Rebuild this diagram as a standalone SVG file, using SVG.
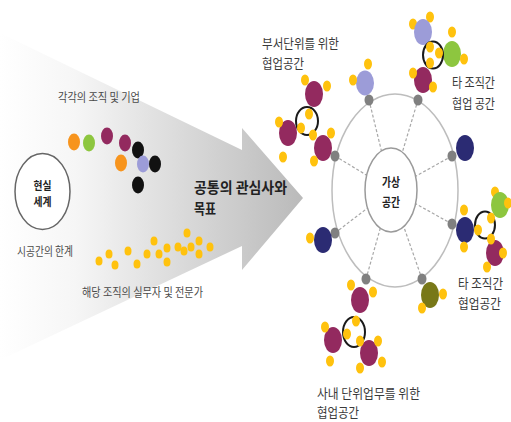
<svg xmlns="http://www.w3.org/2000/svg" width="511" height="422" viewBox="0 0 511 422">
<defs>
<linearGradient id="ag" x1="0" y1="0" x2="303" y2="0" gradientUnits="userSpaceOnUse">
<stop offset="0" stop-color="#ffffff"/>
<stop offset="0.25" stop-color="#f6f6f6"/>
<stop offset="1" stop-color="#bababa"/>
</linearGradient>
<style>
text{font-family:"Noto Sans CJK KR","Noto Sans",sans-serif;}
.lb{font-size:13px;fill:#3a3a3a;}
.sm{font-size:12px;fill:#4a4a4a;}
.bd{font-weight:bold;fill:#222;}
.or{fill:#f7941d;}
.gr{fill:#8dc63f;}
.pu{fill:#932a5f;}
.la{fill:#9c9cd8;}
.bk{fill:#111;}
.ye{fill:#ffc20e;}
.nv{fill:#2b2b73;}
.ol{fill:#787818;}
.gn{fill:#808080;}
.ring{fill:none;stroke:#1a1a1a;stroke-width:2;}
.sp{stroke:#a8a8a8;stroke-width:1.2;stroke-dasharray:3 2;fill:none;}
</style>
</defs>
<rect width="511" height="422" fill="#fff"/>

<g id="arrow">
<polygon points="0,33 242,150 242,128 303,198 242,270 242,246 0,360" fill="url(#ag)"/>
</g>

<g id="real-world">
<ellipse cx="42.5" cy="191.5" rx="27.5" ry="38" fill="#fff" stroke="#666" stroke-width="1.5"/>
<text class="bd" style="font-size:11px" x="33.5" y="189.5" textLength="18" lengthAdjust="spacingAndGlyphs">현실</text>
<text class="bd" style="font-size:11px" x="33.5" y="205.5" textLength="18" lengthAdjust="spacingAndGlyphs">세계</text>
</g>
<text class="sm" x="17" y="256" textLength="56" lengthAdjust="spacingAndGlyphs">시공간의 한계</text>

<g id="orgs">
<text class="sm" x="58" y="102" textLength="82" lengthAdjust="spacingAndGlyphs">각각의 조직 및 기업</text>
<ellipse class="or" cx="74" cy="142" rx="6" ry="8.5"/>
<ellipse class="gr" cx="89" cy="143" rx="6" ry="8.5"/>
<ellipse class="pu" cx="107" cy="136" rx="6" ry="8.5"/>
<ellipse class="pu" cx="125" cy="143" rx="6" ry="8.5"/>
<ellipse class="bk" cx="138" cy="150" rx="6" ry="8.5"/>
<ellipse class="or" cx="121" cy="163" rx="6" ry="8.5"/>
<ellipse class="la" cx="143" cy="164" rx="6" ry="8.5"/>
<ellipse class="bk" cx="155" cy="164" rx="6" ry="8.5"/>
<ellipse class="bk" cx="138" cy="185" rx="6" ry="8.5"/>
</g>

<g id="experts">
<ellipse class="ye" cx="99" cy="261" rx="3.5" ry="4.5"/>
<ellipse class="ye" cx="109" cy="254" rx="3.5" ry="4.5"/>
<ellipse class="ye" cx="115" cy="265" rx="3.5" ry="4.5"/>
<ellipse class="ye" cx="128" cy="251" rx="3.5" ry="4.5"/>
<ellipse class="ye" cx="137" cy="264" rx="3.5" ry="4.5"/>
<ellipse class="ye" cx="147" cy="254" rx="3.5" ry="4.5"/>
<ellipse class="ye" cx="154" cy="241" rx="3.5" ry="4.5"/>
<ellipse class="ye" cx="159" cy="254" rx="3.5" ry="4.5"/>
<ellipse class="ye" cx="167" cy="248" rx="3.5" ry="4.5"/>
<ellipse class="ye" cx="167" cy="262" rx="3.5" ry="4.5"/>
<ellipse class="ye" cx="178" cy="247" rx="3.5" ry="4.5"/>
<ellipse class="ye" cx="184" cy="251" rx="3.5" ry="4.5"/>
<ellipse class="ye" cx="187" cy="233" rx="3.5" ry="4.5"/>
<ellipse class="ye" cx="191" cy="247" rx="3.5" ry="4.5"/>
<ellipse class="ye" cx="199" cy="241" rx="3.5" ry="4.5"/>
<ellipse class="ye" cx="199" cy="254" rx="3.5" ry="4.5"/>
<ellipse class="ye" cx="210" cy="247" rx="3.5" ry="4.5"/>
<text class="sm" x="82" y="297" textLength="121" lengthAdjust="spacingAndGlyphs">해당 조직의 실무자 및 전문가</text>
</g>

<g id="common-goal">
<text class="bd" style="font-size:15px" x="194" y="193" textLength="93" lengthAdjust="spacingAndGlyphs">공통의 관심사와</text>
<text class="bd" style="font-size:15px" x="194" y="214" textLength="22" lengthAdjust="spacingAndGlyphs">목표</text>
</g>

<g id="connectors">
<ellipse cx="395" cy="190.5" rx="63" ry="96.5" fill="none" stroke="#bdbdbd" stroke-width="1.5"/>
<line class="sp" x1="369" y1="100" x2="391" y2="190"/>
<line class="sp" x1="418" y1="100" x2="391" y2="190"/>
<line class="sp" x1="335" y1="156" x2="391" y2="190"/>
<line class="sp" x1="452" y1="156" x2="391" y2="190"/>
<line class="sp" x1="335" y1="233" x2="391" y2="190"/>
<line class="sp" x1="452" y1="224" x2="391" y2="190"/>
<line class="sp" x1="366" y1="279" x2="391" y2="190"/>
<line class="sp" x1="422" y1="279" x2="391" y2="190"/>
</g>

<g id="virtual-space">
<ellipse cx="391" cy="190" rx="26" ry="42" fill="#fff" stroke="#9a9a9a" stroke-width="1.5"/>
<text class="sm bd" x="382" y="186.5" textLength="18" lengthAdjust="spacingAndGlyphs">가상</text>
<text class="sm bd" x="382" y="206.5" textLength="18" lengthAdjust="spacingAndGlyphs">공간</text>
</g>

<g id="hubs">
<ellipse class="gn" cx="369" cy="100" rx="4.5" ry="5.5"/>
<ellipse class="gn" cx="418" cy="100" rx="4.5" ry="5.5"/>
<ellipse class="gn" cx="335" cy="156" rx="4.5" ry="5.5"/>
<ellipse class="gn" cx="452" cy="156" rx="4.5" ry="5.5"/>
<ellipse class="gn" cx="335" cy="233" rx="4.5" ry="5.5"/>
<ellipse class="gn" cx="452" cy="224" rx="4.5" ry="5.5"/>
<ellipse class="gn" cx="366" cy="279" rx="4.5" ry="5.5"/>
<ellipse class="gn" cx="422" cy="279" rx="4.5" ry="5.5"/>
</g>

<g id="node-lavender-top">
<ellipse class="la" cx="365" cy="83" rx="9" ry="12.5"/>
<ellipse class="ye" cx="353" cy="80" rx="4" ry="5.5"/>
<ellipse class="ye" cx="368" cy="64" rx="4" ry="5.5"/>
</g>

<g id="cluster-dept">
<text class="lb" x="262" y="48" textLength="77" lengthAdjust="spacingAndGlyphs">부서단위를 위한</text>
<text class="lb" x="262" y="68" textLength="42" lengthAdjust="spacingAndGlyphs">협업공간</text>
<ellipse class="ye" cx="305" cy="80" rx="4" ry="5.5"/>
<ellipse class="ye" cx="327" cy="86" rx="4" ry="5.5"/>
<ellipse class="pu" cx="314" cy="94" rx="9" ry="13"/>
<ellipse class="pu" cx="288" cy="133" rx="9" ry="13"/>
<ellipse class="pu" cx="323" cy="148" rx="9" ry="13"/>
<ellipse class="ring" cx="307" cy="121" rx="11" ry="14"/>
<ellipse class="ye" cx="279" cy="122" rx="4" ry="5.5"/>
<ellipse class="ye" cx="309" cy="114" rx="4" ry="5.5"/>
<ellipse class="ye" cx="301" cy="128" rx="4" ry="5.5"/>
<ellipse class="ye" cx="313" cy="135" rx="4" ry="5.5"/>
<ellipse class="ye" cx="331" cy="133" rx="4" ry="5.5"/>
<ellipse class="ye" cx="283" cy="157" rx="4" ry="5.5"/>
<ellipse class="ye" cx="314" cy="161" rx="4" ry="5.5"/>
</g>

<g id="cluster-inter-top">
<text class="lb" x="452" y="87" textLength="43" lengthAdjust="spacingAndGlyphs">타 조직간</text>
<text class="lb" x="452" y="108" textLength="43" lengthAdjust="spacingAndGlyphs">협업 공간</text>
<ellipse class="ye" cx="413" cy="24" rx="4" ry="5.5"/>
<ellipse class="ye" cx="430" cy="17" rx="4" ry="5.5"/>
<ellipse class="la" cx="423" cy="32" rx="9" ry="13"/>
<ellipse class="ye" cx="452" cy="32" rx="4" ry="5.5"/>
<ellipse class="gr" cx="452" cy="54" rx="9" ry="13"/>
<ellipse class="ye" cx="464" cy="59" rx="4" ry="5.5"/>
<ellipse class="pu" cx="423" cy="80" rx="9" ry="13"/>
<ellipse class="ring" cx="433" cy="55" rx="10" ry="13.5"/>
<ellipse class="ye" cx="430" cy="47" rx="4" ry="5.5"/>
<ellipse class="ye" cx="439" cy="53" rx="4" ry="5.5"/>
<ellipse class="ye" cx="430" cy="63" rx="4" ry="5.5"/>
<ellipse class="ye" cx="413" cy="73" rx="4" ry="5.5"/>
<ellipse class="ye" cx="433" cy="87" rx="4" ry="5.5"/>
</g>

<g id="node-navy-right">
<ellipse class="nv" cx="465" cy="148" rx="9" ry="13"/>
</g>

<g id="node-navy-left">
<ellipse class="nv" cx="323" cy="240" rx="9" ry="13"/>
<ellipse class="ye" cx="310" cy="238" rx="4" ry="5.5"/>
</g>

<g id="cluster-inter-right">
<text class="lb" x="458" y="288" textLength="45" lengthAdjust="spacingAndGlyphs">타 조직간</text>
<text class="lb" x="458" y="308" textLength="43" lengthAdjust="spacingAndGlyphs">협업공간</text>
<ellipse class="ye" cx="495" cy="192" rx="4" ry="5.5"/>
<ellipse class="gr" cx="500" cy="205" rx="9" ry="13"/>
<ellipse class="ye" cx="508" cy="203" rx="4" ry="5.5"/>
<ellipse class="nv" cx="465" cy="230" rx="9" ry="13"/>
<ellipse class="pu" cx="495" cy="253" rx="9" ry="13"/>
<ellipse class="ring" cx="485" cy="225" rx="10" ry="13.5"/>
<ellipse class="ye" cx="464" cy="210" rx="4" ry="5.5"/>
<ellipse class="ye" cx="464" cy="247" rx="4" ry="5.5"/>
<ellipse class="ye" cx="478" cy="230" rx="4" ry="5.5"/>
<ellipse class="ye" cx="491" cy="218" rx="4" ry="5.5"/>
<ellipse class="ye" cx="491" cy="239" rx="4" ry="5.5"/>
<ellipse class="ye" cx="503" cy="253" rx="4" ry="5.5"/>
<ellipse class="ye" cx="487" cy="267" rx="4" ry="5.5"/>
</g>

<g id="node-olive">
<ellipse class="ol" cx="430" cy="295" rx="9" ry="13"/>
<ellipse class="ye" cx="443" cy="294" rx="4" ry="5.5"/>
<ellipse class="ye" cx="422" cy="308" rx="4" ry="5.5"/>
</g>

<g id="cluster-internal">
<text class="lb" x="317" y="398" textLength="103" lengthAdjust="spacingAndGlyphs">사내 단위업무를 위한</text>
<text class="lb" x="317" y="417" textLength="42" lengthAdjust="spacingAndGlyphs">협업공간</text>
<ellipse class="ye" cx="351" cy="285" rx="4" ry="5.5"/>
<ellipse class="ye" cx="373" cy="292" rx="4" ry="5.5"/>
<ellipse class="pu" cx="360" cy="300" rx="9" ry="13"/>
<ellipse class="pu" cx="333" cy="340" rx="9" ry="13"/>
<ellipse class="pu" cx="369" cy="353" rx="9" ry="13"/>
<ellipse class="ring" cx="354" cy="332" rx="11" ry="15"/>
<ellipse class="ye" cx="325" cy="327" rx="4" ry="5.5"/>
<ellipse class="ye" cx="356" cy="321" rx="4" ry="5.5"/>
<ellipse class="ye" cx="347" cy="334" rx="4" ry="5.5"/>
<ellipse class="ye" cx="360" cy="341" rx="4" ry="5.5"/>
<ellipse class="ye" cx="378" cy="341" rx="4" ry="5.5"/>
<ellipse class="ye" cx="330" cy="361" rx="4" ry="5.5"/>
<ellipse class="ye" cx="360" cy="368" rx="4" ry="5.5"/>
<ellipse class="ye" cx="382" cy="362" rx="4" ry="5.5"/>
</g>
</svg>
